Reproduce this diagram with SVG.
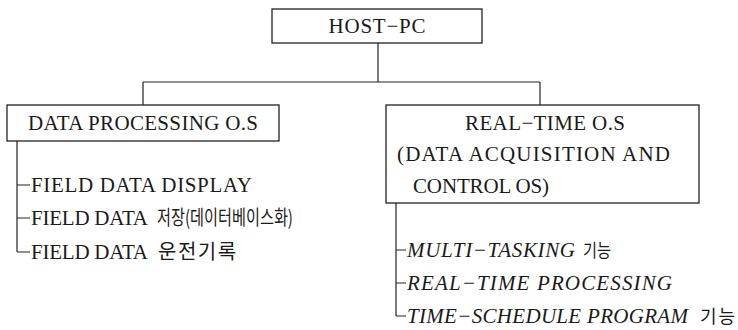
<svg xmlns="http://www.w3.org/2000/svg" width="738" height="330" viewBox="0 0 738 330">
<style>
.box{fill:#fff;stroke:#222;stroke-width:1.3}
.ln{fill:none;stroke:#222;stroke-width:1.2}
.t{font-family:"Liberation Serif","Noto Sans CJK KR",serif;font-size:21px;fill:#1a1a1a}
.k{font-family:"Noto Sans CJK KR","Liberation Serif",sans-serif;font-size:19px;fill:#1a1a1a}
.c{text-anchor:middle}
.i{font-style:italic}
</style>
<rect width="738" height="330" fill="#fff"/>
<g id="connectors">
<path class="ln" d="M378 43V82M143 82H540M143 82V105M540 82V105"/>
<path class="ln" d="M17 141V252M17 185H30M17 218H30M17 252H30"/>
<path class="ln" d="M396 203V316M396 250H406M396 283H406M396 316H406"/>
</g>
<g id="host">
<rect class="box" x="272" y="9" width="210" height="34"/>
<text class="t c" x="377" y="33" textLength="97" lengthAdjust="spacing">HOST−PC</text>
</g>
<g id="dataproc">
<rect class="box" x="7" y="105" width="272" height="36"/>
<text class="t" x="28" y="130" textLength="230" lengthAdjust="spacing">DATA PROCESSING O.S</text>
</g>
<g id="realtime">
<rect class="box" x="386" y="105" width="313" height="98"/>
<text class="t" x="465" y="130" textLength="160" lengthAdjust="spacing">REAL−TIME O.S</text>
<text class="t" x="397" y="161" textLength="273" lengthAdjust="spacing">(DATA ACQUISITION  AND</text>
<text class="t" x="413" y="193" textLength="136" lengthAdjust="spacing">CONTROL OS)</text>
</g>
<g id="left-items">
<text class="t" x="31" y="192" textLength="221" lengthAdjust="spacing">FIELD DATA DISPLAY</text>
<text class="t" x="31" y="225" textLength="117" lengthAdjust="spacing">FIELD DATA</text>
<text class="k" x="157" y="225" style="font-size:20px" textLength="136" lengthAdjust="spacingAndGlyphs">저장(데이터베이스화)</text>
<text class="t" x="31" y="259" textLength="117" lengthAdjust="spacing">FIELD DATA</text>
<text class="k" x="158" y="259" style="font-size:20px;letter-spacing:1.5px">운전기록</text>
</g>
<g id="right-items">
<text class="t i" x="407" y="257" textLength="168" lengthAdjust="spacing">MULTI−TASKING</text>
<text class="k" x="583" y="257" style="font-size:18px" textLength="28" lengthAdjust="spacingAndGlyphs">기능</text>
<text class="t i" x="407" y="290" textLength="265" lengthAdjust="spacing">REAL−TIME PROCESSING</text>
<text class="t i" x="407" y="323" textLength="281" lengthAdjust="spacing">TIME−SCHEDULE PROGRAM</text>
<text class="k" x="700" y="323" style="font-size:18px" textLength="35" lengthAdjust="spacing">기능</text>
</g>
</svg>
